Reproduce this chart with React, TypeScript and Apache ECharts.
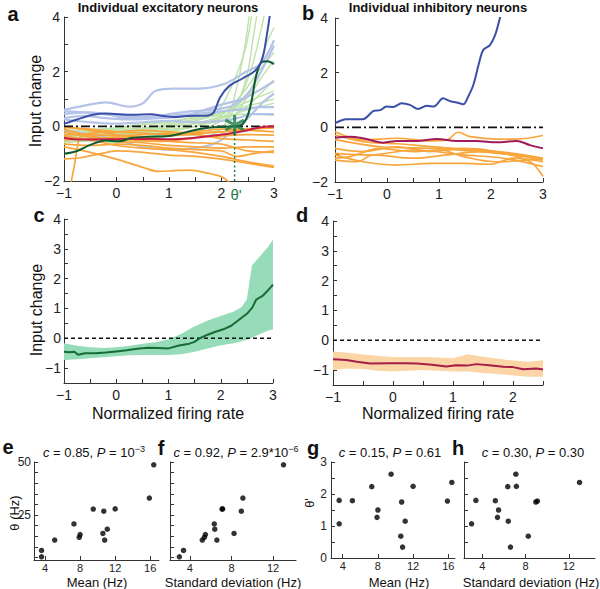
import React, { useEffect, useRef } from 'react';
import * as echarts from 'echarts';

const FONT = 'Arial, "Liberation Sans", Helvetica, sans-serif';

// ---------- Panel a: individual excitatory neurons ----------
const aDarkBlue = [[-1,0.09],[-0.75,0.25],[-0.45,0.42],[-0.2,0.47],[0.3,0.42],[0.65,0.44],[0.9,0.38],[1.1,0.34],[1.35,0.38],[1.75,0.4],[1.85,0.5],[1.97,1.05],[2.15,1.48],[2.4,1.75],[2.65,2.05],[2.78,2.5],[2.86,3.3],[2.93,4.2]];
const aDarkGreen = [[-1,-1.0],[-0.75,-0.9],[-0.5,-0.68],[-0.2,-0.52],[0.05,-0.55],[0.3,-0.42],[0.6,-0.38],[0.95,-0.36],[1.2,-0.28],[1.45,-0.15],[1.7,-0.06],[2.0,-0.02],[2.25,0.0],[2.4,0.08],[2.5,0.4],[2.58,1.0],[2.66,1.85],[2.76,2.34],[2.87,2.38],[3,2.27]];
const aRed = [[-1,-0.42],[-0.75,-0.48],[-0.5,-0.48],[0,-0.47],[0.5,-0.46],[1,-0.47],[1.5,-0.42],[1.8,-0.35],[2.1,-0.28],[2.4,-0.18],[2.7,-0.05],[3,0.0]];
const aBlueLines = [
  [[-1,0.6],[-0.7,0.72],[-0.2,0.88],[0.25,0.72],[0.5,0.84],[0.75,1.3],[1.1,1.38],[1.55,1.38],[2.05,1.55],[2.45,1.98],[2.75,2.3],[3,3.15]],
  [[-1,0.45],[-0.6,0.5],[-0.2,0.45],[0.2,0.3],[0.6,0.3],[1.0,0.45],[1.4,0.55],[1.8,0.6],[2.2,0.75],[2.5,1.2],[2.75,2.0],[3,2.95]],
  [[-1,0.3],[-0.6,0.38],[-0.2,0.3],[0.3,0.25],[0.8,0.3],[1.2,0.35],[1.6,0.55],[2.0,0.8],[2.4,1.0],[2.7,1.3],[3,1.65]],
  [[-1,0.55],[-0.5,0.5],[0,0.4],[0.5,0.35],[1,0.4],[1.5,0.45],[2.0,0.55],[2.4,0.62],[2.7,0.7],[3,0.7]],
  [[-1,0.25],[-0.5,0.15],[0,0.1],[0.5,0.15],[1,0.2],[1.5,0.15],[2,0.2],[2.3,0.3],[2.6,0.45],[3,0.45]],
  [[-1,-0.15],[-0.5,-0.3],[0,-0.5],[0.5,-0.75],[1,-0.85],[1.5,-0.8],[1.9,-0.6],[2.2,-0.2],[2.5,0.3],[2.8,0.9],[3,1.2]],
];
const aGreenLines = [
  [[-1,-0.3],[-0.5,-0.35],[0,-0.2],[0.5,-0.1],[1,0.0],[1.5,0.1],[2,0.2],[2.3,0.8],[2.5,2.0],[2.6,3.2],[2.7,4.4]],
  [[-1,-0.4],[-0.5,-0.3],[0,-0.35],[0.5,-0.2],[1,-0.1],[1.5,0.0],[2,0.3],[2.3,0.9],[2.55,2.0],[2.75,3.5],[2.85,4.4]],
  [[-1,-0.2],[-0.5,-0.25],[0,-0.15],[0.5,-0.05],[1,0.05],[1.5,0.2],[1.9,0.5],[2.2,1.5],[2.45,2.8],[2.6,4.4]],
  [[-1,-0.5],[-0.5,-0.45],[0,-0.3],[0.5,-0.25],[1,-0.15],[1.5,0.0],[2,0.4],[2.4,1.2],[2.7,2.0],[3,2.7]],
  [[-1,-0.35],[0,-0.3],[0.5,-0.1],[1,0.1],[1.5,0.25],[2,0.5],[2.5,0.9],[3,1.3]],
  [[-1,-0.45],[0,-0.4],[0.5,-0.3],[1,-0.2],[1.5,0.0],[2,0.3],[2.5,0.6],[3,0.85]],
  [[-1,-0.25],[0,-0.1],[0.5,0.05],[1,0.15],[1.5,0.35],[2,0.55],[2.5,0.75],[3,1.0]],
  [[-1,-0.55],[0,-0.5],[0.5,-0.45],[1,-0.35],[1.5,-0.3],[2,-0.1],[2.3,0.5],[2.6,1.5],[2.85,3.0],[3,3.6]],
  [[-1,-0.3],[0,-0.25],[0.5,-0.15],[1,-0.05],[1.5,0.1],[2,0.35],[2.5,0.45],[3,0.4]],
  [[-1,-0.6],[-0.5,-0.55],[0,-0.6],[0.5,-0.55],[1,-0.5],[1.5,-0.4],[1.9,-0.25],[2.1,0.2],[2.3,1.5],[2.45,3.0],[2.55,4.4]],
  [[-1,-0.15],[0,-0.05],[0.5,0.1],[1,0.2],[1.5,0.3],[2,0.45],[2.5,1.1],[2.8,1.9],[3,2.4]],
  [[-1,-0.4],[0,-0.45],[0.5,-0.4],[1,-0.3],[1.5,-0.2],[2,0.2],[2.4,0.6],[2.8,1.3],[3,1.7]],
];
const aOrangeLines = [
  [[-0.87,-2.1],[-0.8,-1.4],[-0.74,-0.7],[-0.68,-0.35],[-0.5,-0.25],[0,-0.2],[0.5,-0.15],[1,-0.2],[1.5,-0.25],[2,-0.2],[2.5,-0.1],[3,-0.05]],
  [[-1,0.0],[-0.5,-0.15],[0,-0.3],[0.5,-0.4],[1,-0.35],[1.5,-0.25],[2,-0.2],[2.5,-0.15],[3,-0.2]],
  [[-1,-0.1],[-0.6,-0.3],[-0.2,-0.45],[0.3,-0.5],[0.8,-0.55],[1.2,-0.5],[1.6,-0.4],[2,-0.35],[2.5,-0.3],[3,-0.32]],
  [[-1,-0.2],[-0.5,-0.4],[0,-0.55],[0.5,-0.6],[1,-0.7],[1.5,-0.75],[2,-0.8],[2.5,-0.75],[3,-0.75]],
  [[-1,-0.35],[-0.5,-0.5],[0,-0.7],[0.5,-0.8],[1,-0.85],[1.5,-0.95],[2,-1.1],[2.5,-1.3],[3,-1.45]],
  [[-1,-0.75],[-0.5,-0.95],[0,-1.2],[0.5,-1.5],[0.8,-1.65],[1.1,-1.62],[1.4,-1.6],[1.7,-1.7],[2.0,-1.85],[2.15,-2.05]],
  [[-1,-0.5],[-0.5,-0.45],[0,-0.4],[0.5,-0.45],[1,-0.55],[1.5,-0.6],[2,-0.65],[2.5,-0.9],[3,-0.95]],
  [[-1,-0.65],[-0.5,-0.7],[0,-0.65],[0.5,-0.7],[1,-0.8],[1.5,-0.85],[2,-0.9],[2.3,-1.1],[2.6,-1.0],[3,-0.9]],
  [[-1,-1.2],[-0.7,-1.15],[-0.3,-1.0],[0,-0.9],[0.5,-0.95],[1,-1.05],[1.5,-1.1],[2,-1.2],[2.5,-1.35],[3,-1.5]],
  [[-1,-0.3],[-0.5,-0.3],[0,-0.35],[0.5,-0.3],[1,-0.25],[1.5,-0.2],[2,-0.1],[2.5,-0.1],[3,-0.05]],
  [[-1,-0.05],[-0.5,-0.1],[0,-0.2],[0.5,-0.25],[1,-0.3],[1.5,-0.3],[2,-0.45],[2.5,-0.5],[3,-0.55]],
];
const aThetaPrime = [2.25, 0.05];

// ---------- Panel b: individual inhibitory neurons ----------
const bBlue = [[-1,0.15],[-0.78,0.3],[-0.46,0.3],[-0.26,0.6],[-0.13,0.63],[-0.01,0.76],[0.12,0.74],[0.28,0.88],[0.44,0.82],[0.6,0.67],[0.76,0.79],[0.9,0.76],[1.08,1.06],[1.21,0.96],[1.34,0.91],[1.47,0.84],[1.56,1.12],[1.66,1.55],[1.76,2.28],[1.85,2.83],[1.98,3.01],[2.08,3.38],[2.17,3.99],[2.2,4.3]];
const bRed = [[-1,-0.38],[-0.71,-0.34],[-0.46,-0.4],[-0.07,-0.56],[0.19,-0.5],[0.57,-0.5],[0.96,-0.43],[1.34,-0.5],[1.72,-0.5],[2.11,-0.55],[2.49,-0.5],[2.75,-0.65],[3,-0.77]];
const bOrangeLines = [
  [[-1,-0.16],[-0.46,-0.46],[0.19,-0.4],[0.83,-0.5],[1.15,-0.46],[1.37,-0.18],[1.6,-0.34],[2.11,-0.43],[2.49,-0.43],[3,-0.3]],
  [[-1,-0.28],[-0.46,-0.52],[0.2,-0.6],[0.8,-0.7],[1.5,-0.8],[2.2,-0.9],[2.6,-1.0],[3,-1.13]],
  [[-1,-0.45],[-0.13,-0.71],[0.83,-0.77],[1.79,-0.89],[2.43,-1.01],[3,-1.2]],
  [[-1,-0.77],[-0.46,-0.89],[0.19,-0.71],[0.83,-0.89],[1.47,-0.77],[2.11,-0.89],[2.75,-1.26],[3,-1.8]],
  [[-1,-0.95],[-0.33,-1.01],[0.51,-0.83],[1.47,-1.01],[2.24,-1.13],[3,-1.44]],
  [[-1,-1.13],[-0.71,-1.07],[-0.13,-0.77],[0.51,-0.89],[1.02,-0.83],[1.47,-1.07],[2.11,-1.26],[3,-1.13]],
  [[-1,-1.01],[-0.46,-1.26],[0.19,-1.38],[0.83,-1.32],[1.47,-1.32],[1.98,-1.35],[2.43,-1.13],[3,-1.26]],
  [[-1,-1.2],[-0.58,-1.26],[-0.26,-1.01],[0.51,-1.13],[1.15,-1.01],[1.79,-0.89],[2.43,-1.01],[3,-1.13]],
];

// ---------- Panel c: excitatory mean with band ----------
const cBandX = [-1,-0.75,-0.5,-0.25,0,0.25,0.5,0.75,1,1.25,1.5,1.75,2,2.25,2.4,2.5,2.55,2.6,2.7,2.8,2.9,3];
const cBandLow = [-0.73,-0.7,-0.67,-0.64,-0.6,-0.57,-0.56,-0.56,-0.56,-0.54,-0.45,-0.34,-0.23,-0.17,-0.1,-0.06,-0.02,0.02,0.1,0.18,0.25,0.3];
const cBandHigh = [-0.17,-0.25,-0.3,-0.33,-0.3,-0.25,-0.18,-0.13,-0.03,0.15,0.4,0.6,0.75,0.9,1.05,1.3,1.9,2.45,2.65,2.85,3.05,3.3];
const cMean = [[-1,-0.45],[-0.9,-0.47],[-0.8,-0.45],[-0.73,-0.55],[-0.6,-0.5],[-0.4,-0.5],[-0.2,-0.48],[0,-0.44],[0.2,-0.4],[0.4,-0.35],[0.6,-0.32],[0.8,-0.33],[1.0,-0.34],[1.2,-0.24],[1.4,-0.18],[1.5,-0.12],[1.6,0.0],[1.75,0.12],[1.9,0.22],[2.05,0.3],[2.2,0.42],[2.35,0.62],[2.5,0.82],[2.6,1.02],[2.68,1.3],[2.8,1.42],[2.9,1.6],[3,1.8]];

// ---------- Panel d: inhibitory mean with band ----------
const dBandX = [-1,-0.75,-0.5,-0.25,0,0.25,0.5,0.75,1,1.25,1.5,1.75,2,2.25,2.5];
const dBandLow = [-1.0,-0.95,-0.96,-1.02,-1.05,-1.02,-1.0,-1.02,-1.05,-1.05,-1.1,-1.13,-1.18,-1.22,-1.22];
const dBandHigh = [-0.38,-0.42,-0.48,-0.52,-0.56,-0.56,-0.56,-0.58,-0.6,-0.47,-0.55,-0.62,-0.68,-0.72,-0.67];
const dMean = [[-1,-0.64],[-0.78,-0.66],[-0.6,-0.72],[-0.38,-0.78],[-0.05,-0.77],[0.2,-0.77],[0.4,-0.78],[0.65,-0.82],[0.89,-0.88],[1.05,-0.84],[1.23,-0.85],[1.39,-0.8],[1.6,-0.84],[1.84,-0.89],[2.0,-0.9],[2.17,-0.97],[2.39,-0.95],[2.5,-0.98]];

// ---------- Panels e-h: scatter ----------
const meanHz = [3.6, 3.6, 5.1, 8.0, 7.9, 7.3, 11.1, 9.5, 12.0, 10.8, 10.6, 10.7, 15.9, 16.4];
const stdHz = [3.0, 3.4, 5.2, 5.5, 5.4, 6.35, 6.4, 7.1, 7.15, 6.6, 8.25, 8.95, 9.1, 13.0];
const theta = [5.3, 8.3, 13.2, 15.8, 14.5, 20.8, 18.3, 27.8, 27.9, 13.2, 16.3, 26.8, 33, 48.7];
const thetaPrime = [1.07, 1.8, 1.79, 1.5, 1.27, 2.23, 1.15, 2.62, 2.24, 0.34, 0.68, 1.75, 1.78, 2.36];

const meanTicks = [4, 8, 12, 16];
const stdTicks = [4, 8, 12];
const thetaLabels = [25, 50];
const thetaTicks = [5, 10, 15, 20, 25, 30, 35, 40, 45, 50];

const C = {
  lightBlue: '#b4c3e8',
  lightGreen: '#bde2aa',
  orange: '#f8a63c',
  darkBlue: '#3b4fa8',
  darkGreen: '#0f5a2e',
  red: '#c21d48',
  magenta: '#a01a5a',
  bandGreen: '#97dcb8',
  bandPeach: '#fbd5a6',
  meanGreen: '#176b35',
  meanRed: '#a51d48',
  thetaGreen: '#1e7d4a',
};

const STAR = 'path://M-1.5,-10L1.5,-10L1.5,10L-1.5,10Z M7.91,6.3L-9.41,-3.7L-7.91,-6.3L9.41,3.7Z M-9.41,3.7L7.91,-6.3L9.41,-3.7L-7.91,6.3Z';

const fmtNum = (v: number) => (v < 0 ? '\u2212' + Math.abs(v) : String(v));
const axisLineStyle = { color: '#333', width: 1 };

function valAxis(grid: number, min: number, max: number, interval: number | null, labelStep: number | null, extra: any = {}) {
  const ax: any = {
    type: 'value', gridIndex: grid, min, max,
    axisLine: { show: true, onZero: false, lineStyle: axisLineStyle },
    axisTick: { show: true, inside: true, length: 4, lineStyle: axisLineStyle },
    splitLine: { show: false },
    axisLabel: {
      show: labelStep !== null, color: '#222', fontFamily: FONT, fontSize: 14, margin: 5,
      showMinLabel: true, showMaxLabel: true,
      formatter: (v: number) => (labelStep !== null && Math.abs(v / labelStep - Math.round(v / labelStep)) < 1e-6 ? fmtNum(Math.round(v * 100) / 100) : ''),
    },
  };
  if (interval !== null) ax.interval = interval;
  return echarts.util.merge(ax, extra, true);
}

function lineSeries(data: number[][], grid: number, color: string, width: number, z: number, smooth: number | boolean = 0.35) {
  return {
    type: 'line', xAxisIndex: grid, yAxisIndex: grid, data, showSymbol: false, symbol: 'none',
    smooth, lineStyle: { color, width }, itemStyle: { color }, z, silent: true, clip: true,
  };
}

function bandSeries(grid: number, xs: number[], lo: number[], hi: number[], fill: string) {
  return {
    type: 'custom', xAxisIndex: grid, yAxisIndex: grid, silent: true, z: 1,
    data: xs.map((x, i) => [x, lo[i], hi[i]]),
    encode: { x: 0, y: [1, 2] },
    renderItem: (params: any, api: any) => {
      if (params.dataIndex !== 0) return null;
      const up = xs.map((x, i) => api.coord([x, hi[i]]));
      const down = xs.map((x, i) => api.coord([x, lo[i]])).reverse();
      return { type: 'polygon', shape: { points: up.concat(down) }, style: { fill, stroke: 'none' } };
    },
  };
}

function zeroLine(grid: number, x0: number, x1: number, dash: number[]) {
  return {
    type: 'line', xAxisIndex: grid, yAxisIndex: grid, data: [[x0, 0], [x1, 0]], showSymbol: false, symbol: 'none',
    lineStyle: { color: '#111', width: 1.6, type: dash }, z: 5, silent: true,
  };
}

function scatterSeries(grid: number, xs: number[], ys: number[]) {
  return {
    type: 'scatter', xAxisIndex: grid, yAxisIndex: grid, data: xs.map((x, i) => [x, ys[i]]),
    symbol: 'circle', symbolSize: 5.5, itemStyle: { color: '#000' }, silent: true,
  };
}

function txt(x: number, y: number, text: string, font: string, fill = '#111', rotation = 0, extra: any = {}) {
  return {
    type: 'text', x, y, rotation, silent: true,
    style: Object.assign({ text, font, fill, align: 'center', verticalAlign: 'middle', textAlign: 'center', textVerticalAlign: 'middle' }, extra),
  };
}

function statText(x: number, y: number, text: string) {
  return txt(x, y, text, `13px ${FONT}`, '#111', 0, {
    fontSize: 13, fontFamily: FONT,
    rich: {
      i: { fontStyle: 'italic', fontSize: 13, fontFamily: FONT, fill: '#111' },
      s: { fontSize: 9, fontFamily: FONT, verticalAlign: 'top', fill: '#111', padding: [0, 0, 6, 0] },
    },
  });
}

function buildOption() {
  const grids = [
    { left: 64, top: 17, width: 210, height: 164 },
    { left: 335, top: 18, width: 208, height: 164 },
    { left: 64, top: 219, width: 209, height: 164 },
    { left: 333, top: 221, width: 210, height: 164 },
    { left: 34, top: 462, width: 125, height: 98 },
    { left: 170, top: 462, width: 126, height: 98 },
    { left: 331, top: 462, width: 124, height: 96 },
    { left: 464, top: 462, width: 131, height: 96 },
  ].map((g) => ({ ...g, containLabel: false, outerBoundsMode: 'none' }));

  const bx = (ticks: number[]) => ({ axisLabel: { fontSize: 11, margin: 2, customValues: ticks }, axisTick: { customValues: ticks } });
  const xAxis = [
    valAxis(0, -1, 3, 0.5, 1),
    valAxis(1, -1, 3, 0.5, 1),
    valAxis(2, -1, 3, 0.5, 1),
    valAxis(3, -1, 2.5, 0.5, 1),
    valAxis(4, 2.74, 17, null, 4, bx(meanTicks)),
    valAxis(5, 2.1, 14.2, null, 4, bx(stdTicks)),
    valAxis(6, 2.67, 16.76, null, 4, bx(meanTicks)),
    valAxis(7, 2.3, 14.43, null, 4, bx(stdTicks)),
  ];
  const yAxis = [
    valAxis(0, -2, 4, 1, 2, { axisLabel: { margin: 4 } }),
    valAxis(1, -2, 4, 1, 2, { axisLabel: { margin: 7 } }),
    valAxis(2, -1.5, 4, 0.5, 1, { axisLabel: { margin: 3 } }),
    valAxis(3, -1.5, 4, 0.5, 1, { axisLabel: { margin: 4 } }),
    valAxis(4, 3.8, 50, null, 25, { axisLabel: { fontSize: 12, margin: 3, customValues: thetaLabels }, axisTick: { customValues: thetaTicks } }),
    valAxis(5, 3.8, 50, null, null, { axisTick: { customValues: thetaTicks } }),
    valAxis(6, 0, 3, 0.5, 1, { axisLabel: { fontSize: 12, margin: 4 } }),
    valAxis(7, 0, 3, 0.5, null),
  ];

  const series: any[] = [];
  // panel a
  aGreenLines.forEach((l) => series.push(lineSeries(l, 0, C.lightGreen, 1.4, 2)));
  aBlueLines.forEach((l) => series.push(lineSeries(l, 0, C.lightBlue, 2.2, 3)));
  aOrangeLines.forEach((l) => series.push(lineSeries(l, 0, C.orange, 1.7, 4)));
  series.push(zeroLine(0, -1, 3, [9, 3, 2, 3]));
  series.push(lineSeries(aRed, 0, C.red, 2, 6));
  series.push(lineSeries(aDarkGreen, 0, C.darkGreen, 2, 7));
  series.push(lineSeries(aDarkBlue, 0, C.darkBlue, 2, 8));
  series.push({
    type: 'line', xAxisIndex: 0, yAxisIndex: 0, data: [[aThetaPrime[0], aThetaPrime[1]], [aThetaPrime[0], -2]],
    showSymbol: false, symbol: 'none', lineStyle: { color: C.thetaGreen, width: 1.5, type: [2, 2.5] }, z: 8, silent: true,
  });
  series.push({
    type: 'scatter', xAxisIndex: 0, yAxisIndex: 0, data: [aThetaPrime], symbol: STAR, symbolSize: 20,
    itemStyle: { color: C.thetaGreen }, z: 10, silent: true,
  });
  // panel b
  bOrangeLines.forEach((l) => series.push(lineSeries(l, 1, C.orange, 1.7, 4)));
  series.push(zeroLine(1, -1, 3, [9, 3, 2, 3]));
  series.push(lineSeries(bRed, 1, C.magenta, 2, 6));
  series.push(lineSeries(bBlue, 1, C.darkBlue, 2, 8, 0.3));
  // panel c
  series.push(bandSeries(2, cBandX, cBandLow, cBandHigh, C.bandGreen));
  series.push(zeroLine(2, -1, 3, [4, 3]));
  series.push(lineSeries(cMean, 2, C.meanGreen, 2, 6, false));
  // panel d
  series.push(bandSeries(3, dBandX, dBandLow, dBandHigh, C.bandPeach));
  series.push(zeroLine(3, -1, 2.5, [4, 3]));
  series.push(lineSeries(dMean, 3, C.meanRed, 2, 6, false));
  // panels e-h
  series.push(scatterSeries(4, meanHz, theta));
  series.push(scatterSeries(5, stdHz, theta));
  series.push(scatterSeries(6, meanHz, thetaPrime));
  series.push(scatterSeries(7, stdHz, thetaPrime));

  const bold = (s: number) => `bold ${s}px ${FONT}`;
  const reg = (s: number) => `${s}px ${FONT}`;
  const graphic = [
    txt(13, 14, 'a', bold(20)),
    txt(168, 7, 'Individual excitatory neurons', bold(13)),
    txt(308, 13, 'b', bold(20)),
    txt(438, 7, 'Individual inhibitory neurons', bold(13)),
    txt(39, 215, 'c', bold(20)),
    txt(302, 215, 'd', bold(20)),
    txt(8, 447, 'e', bold(20)),
    txt(161, 448, 'f', bold(20)),
    txt(313, 448, 'g', bold(20)),
    txt(458, 448, 'h', bold(20)),
    txt(35, 101, 'Input change', reg(16), '#111', Math.PI / 2),
    txt(36, 310, 'Input change', reg(16), '#111', Math.PI / 2),
    txt(168, 413, 'Normalized firing rate', reg(16)),
    txt(438, 413, 'Normalized firing rate', reg(16)),
    txt(236, 194, "\u03b8'", reg(15), C.thetaGreen),
    statText(94, 452, '{i|c} = 0.85, {i|P} = 10{s|\u22123}'),
    statText(236, 452, '{i|c} = 0.92, {i|P} = 2.9*10{s|\u22126}'),
    statText(390, 452, '{i|c} = 0.15, {i|P} = 0.61'),
    statText(533, 452, '{i|c} = 0.30, {i|P} = 0.30'),
    txt(14, 513, '\u03b8 (Hz)', reg(13), '#111', Math.PI / 2),
    txt(309, 503, "\u03b8'", reg(13), '#111', Math.PI / 2),
    txt(97, 582, 'Mean (Hz)', reg(13)),
    txt(233, 582, 'Standard deviation (Hz)', reg(13)),
    txt(399, 582, 'Mean (Hz)', reg(13)),
    txt(531, 582, 'Standard deviation (Hz)', reg(13)),
  ];

  return {
    animation: false,
    backgroundColor: '#ffffff',
    textStyle: { fontFamily: FONT },
    grid: grids,
    xAxis,
    yAxis,
    series,
    graphic,
  };
}

export default function App() {
  const ref = useRef<HTMLDivElement>(null);
  useEffect(() => {
    if (!ref.current) return;
    const chart = echarts.init(ref.current, null, { renderer: 'svg' });
    chart.setOption(buildOption() as any);
    return () => chart.dispose();
  }, []);
  return <div ref={ref} style={{ position: 'absolute', left: 0, top: 0, width: 600, height: 589 }} />;
}
